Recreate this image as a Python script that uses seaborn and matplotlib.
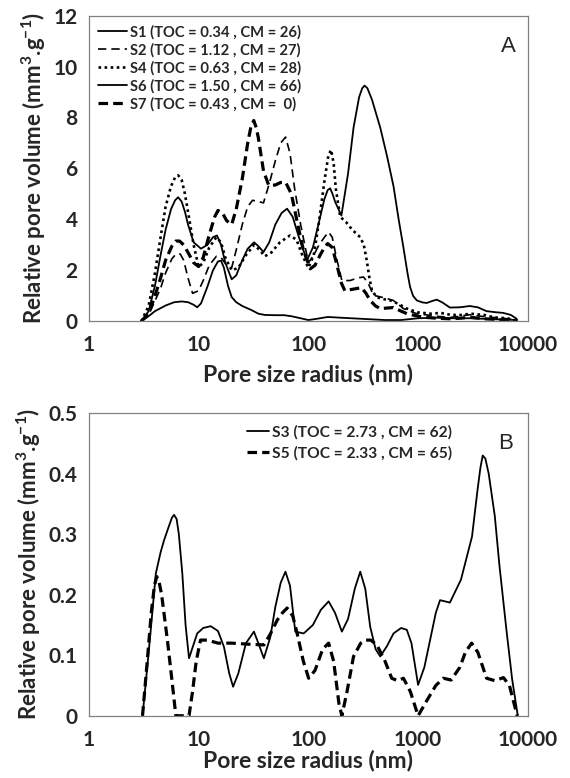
import matplotlib
matplotlib.use("Agg")
import matplotlib.pyplot as plt
import matplotlib.ticker as mticker
import seaborn as sns
import pandas as pd

# ---- panel A data (pore radius in nm, relative pore volume mm3/g) ----
s1_x = [3, 3.5, 4, 5, 6, 7, 8, 9, 9.7, 10.5, 12, 13.5, 15, 16, 17, 18.5, 20, 22, 25, 30, 35, 40,
        50, 60, 70, 85, 100, 120, 150, 200, 300, 500, 700, 1000, 1500, 2000, 3000, 5000, 8000]
s1_y = [0, 0.2, 0.4, 0.62, 0.75, 0.78, 0.75, 0.65, 0.55, 0.7, 1.35, 2.0, 2.35, 2.38, 2.1, 1.4, 0.95,
        0.75, 0.6, 0.45, 0.3, 0.25, 0.24, 0.24, 0.2, 0.12, 0.05, 0.1, 0.17, 0.14, 0.1, 0.05, 0.05,
        0.12, 0.14, 0.12, 0.12, 0.08, 0.05]

s2_x = [3, 3.5, 4, 4.5, 5, 5.7, 6.2, 6.8, 7.3, 8, 8.8, 10, 11, 12.5, 14.5, 16, 18, 20, 22, 25, 28,
        31, 35, 39, 44, 50, 56, 62, 68, 75, 85, 100, 112, 125, 140, 153, 165, 180, 202, 240, 280,
        318, 350, 393, 484, 594, 735, 970, 1200, 1480, 1950, 2400, 2960, 4200, 6000, 8000]
s2_y = [0, 0.25, 0.8, 1.3, 1.9, 2.45, 2.64, 2.64, 2.4, 1.7, 1.1, 1.2, 1.6, 2.2, 2.55, 2.5, 2.2, 2.1,
        2.8, 3.8, 4.5, 4.75, 4.7, 4.65, 5.4, 6.3, 7.0, 7.23, 6.6, 5.2, 3.8, 2.3, 2.6, 3.0, 3.3, 3.5,
        3.3, 2.5, 1.6, 1.6, 1.7, 1.74, 1.5, 1.02, 0.93, 0.82, 0.5, 0.3, 0.25, 0.2, 0.15, 0.2, 0.26,
        0.17, 0.12, 0.05]

s4_x = [3, 3.5, 4, 4.5, 5, 5.6, 6.1, 6.5, 7.0, 7.5, 8, 9, 10, 11, 12.5, 14.5, 16, 17.5, 20, 23, 27,
        32, 36, 40, 46, 55, 68, 78, 88, 100, 112, 125, 140, 152, 161, 170, 178, 195, 220, 250, 297,
        320, 340, 360, 380, 420, 470, 560, 650, 790, 1000, 1300, 1600, 2000, 2500, 3000, 4000,
        5000, 6500, 8000]
s4_y = [0, 0.6, 1.9, 3.3, 4.5, 5.3, 5.65, 5.73, 5.55, 5.0, 4.3, 3.0, 2.13, 2.3, 2.9, 3.3, 3.1, 2.5,
        2.0, 2.1, 2.6, 3.0, 2.8, 2.55, 2.7, 3.1, 3.37, 3.2, 2.6, 2.1, 2.6, 3.9, 5.5, 6.5, 6.73, 6.2,
        5.2, 4.1, 3.9, 3.6, 3.3, 3.0, 2.4, 1.7, 1.2, 0.95, 0.88, 0.82, 0.7, 0.5, 0.35, 0.3, 0.33,
        0.25, 0.25, 0.3, 0.25, 0.15, 0.12, 0.0]

s6_x = [3, 3.5, 4, 4.5, 5, 5.6, 6.1, 6.5, 7.0, 7.5, 8, 9, 10.5, 12, 13.5, 14.7, 16, 17.5, 20, 22,
        25, 28, 32, 35, 39, 44, 50, 57, 64, 72, 82, 97, 110, 125, 140, 150, 158, 166, 175, 200, 230,
        258, 290, 310, 325, 345, 380, 452, 520, 597, 665, 735, 800, 845, 900, 973, 1100, 1200,
        1350, 1480, 1650, 1950, 2400, 2960, 3500, 4200, 5000, 5970, 7000, 7900]
s6_y = [0, 0.4, 1.4, 2.6, 3.6, 4.4, 4.75, 4.87, 4.7, 4.3, 3.8, 3.1, 2.85, 3.0, 3.3, 3.37, 3.0, 2.3,
        1.65, 1.8, 2.4, 2.85, 3.1, 2.95, 2.72, 3.1, 3.8, 4.25, 4.42, 4.1, 3.3, 2.39, 2.9, 3.9, 4.8,
        5.15, 5.22, 5.0, 4.7, 4.15, 5.8, 7.6, 8.8, 9.15, 9.25, 9.15, 8.7, 7.6, 6.5, 5.3, 4.0, 2.9,
        1.9, 1.35, 1.0, 0.82, 0.74, 0.72, 0.8, 0.85, 0.75, 0.54, 0.55, 0.6, 0.55, 0.4, 0.36, 0.33,
        0.25, 0.1]

s7_x = [3, 3.5, 4, 4.5, 5, 5.7, 6.2, 6.7, 7.3, 8, 9, 10, 11, 12.5, 14, 15, 16.5, 18, 20, 22, 25, 28,
        30, 31.8, 33.5, 35, 39, 43.6, 50, 56, 62, 70, 80, 90, 104, 115, 128, 140, 150, 165, 180,
        200, 215, 240, 270, 305, 335, 365, 410, 452, 520, 594, 700, 790, 1000, 1200, 1500, 1950,
        2400, 2960, 4000, 6000, 8000]
s7_y = [0, 0.3, 1.0, 1.7, 2.4, 2.95, 3.15, 3.15, 3.0, 2.7, 2.3, 2.15, 2.5, 3.4, 4.1, 4.35, 4.25,
        3.95, 3.8, 4.4, 5.6, 7.0, 7.65, 7.88, 7.6, 7.2, 5.9, 5.33, 5.35, 5.45, 5.46, 5.0, 3.8, 2.8,
        2.06, 2.2, 2.6, 2.9, 3.05, 2.9, 2.3, 1.5, 1.2, 1.24, 1.28, 1.32, 1.1, 0.82, 0.6, 0.5, 0.52,
        0.54, 0.4, 0.3, 0.2, 0.15, 0.12, 0.1, 0.12, 0.16, 0.1, 0.06, 0.03]

# ---- panel B data ----
s3_x = [3.08, 3.4, 3.66, 4.07, 4.5, 4.84, 5.4, 5.7, 5.97, 6.3, 6.6, 7.1, 7.6, 8.17, 8.7, 9.7, 11,
        12.9, 15, 17, 19, 20.6, 23, 27, 31.9, 35, 39.3, 45, 50, 56, 61.8, 68, 76, 90.6, 110, 130,
        153, 175, 202, 230, 265, 297, 330, 366, 410, 452, 520, 597, 700, 789, 870, 1000, 1140,
        1286, 1450, 1585, 1950, 2460, 3100, 3480, 3700, 3880, 4100, 4400, 5000, 5500, 6400, 7200,
        8100]
s3_y = [0, 0.08, 0.142, 0.235, 0.27, 0.29, 0.315, 0.327, 0.332, 0.325, 0.3, 0.235, 0.15, 0.095,
        0.11, 0.136, 0.145, 0.148, 0.14, 0.114, 0.07, 0.048, 0.07, 0.12, 0.139, 0.12, 0.095, 0.13,
        0.18, 0.22, 0.238, 0.215, 0.139, 0.136, 0.15, 0.175, 0.189, 0.17, 0.139, 0.16, 0.21, 0.238,
        0.21, 0.147, 0.11, 0.098, 0.115, 0.136, 0.145, 0.142, 0.12, 0.051, 0.08, 0.125, 0.17,
        0.191, 0.187, 0.225, 0.296, 0.373, 0.41, 0.43, 0.425, 0.40, 0.33, 0.25, 0.14, 0.06, 0.0]

s5_x = [3.08, 3.4, 3.7, 3.95, 4.15, 4.35, 4.6, 5.19, 5.7, 6.2, 8.17, 8.8, 9.5, 10.4, 12, 15, 20, 30,
        39.3, 45, 52, 58, 64, 72, 79, 90, 100.6, 115, 135, 153, 170, 190, 202, 225, 258, 300, 330,
        370, 421, 500, 575, 650, 735, 850, 1000, 1200, 1450, 1700, 2000, 2400, 2700, 3075, 3500,
        4210, 5000, 6000, 6800, 8000]
s5_y = [0, 0.09, 0.17, 0.215, 0.23, 0.222, 0.2, 0.125, 0.06, 0, 0, 0.04, 0.09, 0.125, 0.125, 0.12,
        0.12, 0.118, 0.117, 0.135, 0.158, 0.17, 0.178, 0.165, 0.136, 0.09, 0.062, 0.075, 0.11,
        0.12, 0.09, 0.02, 0.0, 0.04, 0.098, 0.12, 0.125, 0.125, 0.117, 0.09, 0.062, 0.058, 0.062,
        0.04, 0.0, 0.025, 0.05, 0.062, 0.059, 0.08, 0.105, 0.12, 0.105, 0.062, 0.058, 0.063, 0.05,
        0.0]

labels_a = ["S1 (TOC = 0.34 , CM = 26)", "S2 (TOC = 1.12 , CM = 27)", "S4 (TOC = 0.63 , CM = 28)",
            "S6 (TOC = 1.50 , CM = 66)", "S7 (TOC = 0.43 , CM =  0)"]
labels_b = ["S3 (TOC = 2.73 , CM = 62)", "S5 (TOC = 2.33 , CM = 65)"]

x_ticks = [1, 10, 100, 1000, 10000]
y_ticks_a = [0, 2, 4, 6, 8, 10, 12]
y_ticks_b = [0, 0.1, 0.2, 0.3, 0.4, 0.5]

sns.set_style("white")
plt.rcParams['font.family'] = ['Lato', 'DejaVu Sans']
plt.rcParams['mathtext.fontset'] = 'custom'
plt.rcParams['mathtext.rm'] = 'Lato:bold'
plt.rcParams['mathtext.it'] = 'Lato:bold'
plt.rcParams['mathtext.bf'] = 'Lato:bold'
plt.rcParams['mathtext.default'] = 'rm'

fig = plt.figure(figsize=(5.7, 7.78), dpi=100)
ax_a = fig.add_axes([0.156, 0.587, 0.770, 0.393])
ax_b = fig.add_axes([0.156, 0.080, 0.770, 0.389])

dash_thick = (0, (3, 1.6))
styles_a = [
    dict(lw=1.3, linestyle='-'),
    dict(lw=1.2, linestyle=(0, (5, 3))),
    dict(lw=1.9, linestyle=(0, (1, 1.3))),
    dict(lw=1.3, linestyle='-'),
    dict(lw=2.3, linestyle=dash_thick),
]
series_a = [(s1_x, s1_y), (s2_x, s2_y), (s4_x, s4_y), (s6_x, s6_y), (s7_x, s7_y)]
for (xs, ys), lab, st in zip(series_a, labels_a, styles_a):
    df = pd.DataFrame({'r': xs, 'v': ys})
    sns.lineplot(data=df, x='r', y='v', ax=ax_a, color='black', estimator=None,
                 label=lab, **st)

styles_b = [dict(lw=1.3, linestyle='-'), dict(lw=2.3, linestyle=dash_thick)]
series_b = [(s3_x, s3_y), (s5_x, s5_y)]
for (xs, ys), lab, st in zip(series_b, labels_b, styles_b):
    df = pd.DataFrame({'r': xs, 'v': ys})
    sns.lineplot(data=df, x='r', y='v', ax=ax_b, color='black', estimator=None,
                 label=lab, **st)

ylabel = r'Relative pore volume (mm$^{3}$.g$^{-1}$)'
for ax, yt, ylim, xpad in [(ax_a, y_ticks_a, (0, 12), 6), (ax_b, y_ticks_b, (0, 0.5), 0)]:
    ax.set_xscale('log')
    ax.set_xlim(1, 10000)
    ax.set_ylim(*ylim)
    ax.set_xticks(x_ticks)
    ax.xaxis.set_major_formatter(mticker.FuncFormatter(lambda v, p: f"{int(round(v))}"))
    ax.set_yticks(yt)
    ax.yaxis.set_major_formatter(mticker.FuncFormatter(lambda v, p: "0" if v == 0 else f"{v:g}"))
    for sp in ax.spines.values():
        sp.set_color('#808080')
        sp.set_linewidth(0.9)
    ax.tick_params(axis='both', which='major', direction='out', length=5, width=0.9,
                   color='#333333', labelsize=15)
    ax.tick_params(axis='x', which='major', pad=5)
    ax.tick_params(axis='y', which='major', pad=3)
    ax.tick_params(axis='x', which='minor', direction='out', length=4, width=0.8,
                   color='#333333')
    for t in ax.get_xticklabels() + ax.get_yticklabels():
        t.set_fontweight('bold')
    ax.set_xlabel('Pore size radius (nm)', fontsize=16.5, fontweight='bold', labelpad=xpad)
    ax.set_ylabel(ylabel, fontsize=16, fontweight='bold', labelpad=4)

leg_a = ax_a.legend(loc='upper left', bbox_to_anchor=(0.02, 0.97), frameon=False,
                    fontsize=10.6, handlelength=2.0, handletextpad=0.2, labelspacing=0.24,
                    borderpad=0, borderaxespad=0)
for t in leg_a.get_texts():
    t.set_fontweight('bold')
leg_b = ax_b.legend(loc='upper left', bbox_to_anchor=(0.36, 0.962), frameon=False,
                    fontsize=11.2, handlelength=1.4, handletextpad=0.2, labelspacing=0.44,
                    borderpad=0, borderaxespad=0)
for t in leg_b.get_texts():
    t.set_fontweight('bold')

ax_a.text(0.955, 0.90, 'A', transform=ax_a.transAxes, fontsize=16,
          family='Liberation Sans', ha='center', va='center')
ax_b.text(0.95, 0.90, 'B', transform=ax_b.transAxes, fontsize=16,
          family='Liberation Sans', ha='center', va='center')

fig.savefig('out.png', dpi=100)
